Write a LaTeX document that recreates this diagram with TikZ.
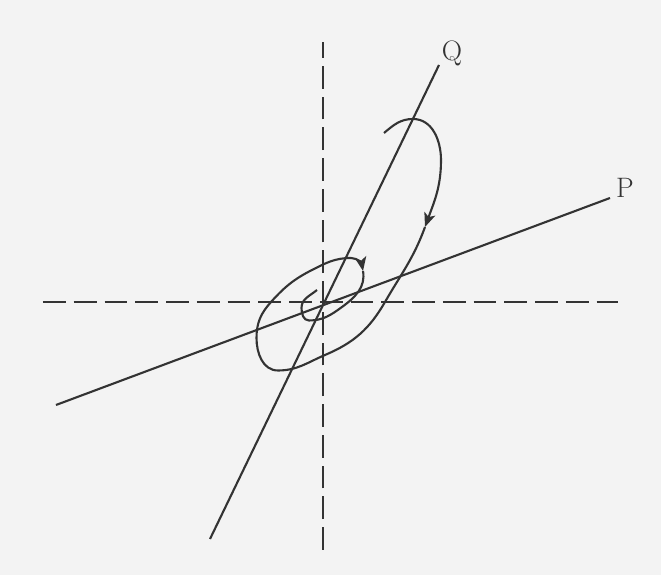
\documentclass[tikz,border=0pt]{standalone}
\usepackage{tikz}
\usetikzlibrary{arrows.meta}
\definecolor{paper}{HTML}{F3F3F3}
\definecolor{ink}{HTML}{333333}
\tikzset{
  axis/.style={draw=ink,line width=1.5pt,dash pattern=on 13pt off 4.5pt},
  ray/.style={draw=ink,line width=1.2pt},
  orbit/.style={draw=ink,line width=1.2pt},
  flow/.style={orbit,-{Stealth[length=8pt,width=6.5pt,inset=2pt]}},
  lbl/.style={font=\fontsize{16}{19}\selectfont,text=ink,inner sep=0pt}
}

\begin{document}
\begin{tikzpicture}[x=1cm,y=1cm]
  \fill[paper] (-6.46,-5.46) rectangle (6.76,6.04);
  \useasboundingbox (-6.46,-5.46) rectangle (6.76,6.04);
  % dashed axes
  \coordinate (O) at (0,0);
  \coordinate (xl) at (-5.6,0); \coordinate (xr) at (5.9,0);
  \coordinate (yb) at (0,-4.96); \coordinate (yt) at (0,5.2);
  \draw[axis] (xl)--(xr); \draw[axis] (yb)--(yt);
  % the two lines
  \coordinate (p0) at (-5.34,-2.06); \coordinate (p1) at (5.74,2.08);
  \coordinate (q0) at (-2.26,-4.74); \coordinate (q1) at (2.32,4.74);
  \draw[ray] (p0)--(p1); \draw[ray] (q0)--(q1);
  \node[lbl] (P) at (6.04,2.28) {P};
  \node[lbl] (Q) at (2.58,4.98) {Q};
  % spiral, in three pieces
  \coordinate (s0) at (1.22,3.38); \coordinate (a1) at (2.04,1.50);
  \coordinate (a2) at (0.80,0.62); \coordinate (s1) at (-0.12,0.24);
  \draw[flow] (s0) to[out=40,in=180] (1.80,3.66) to[out=0,in=90] (2.36,2.84)
    to[out=-90,in=70] (a1);
  \draw[flow] (a1) to[out=-110,in=60] (1.24,0) to[out=-120,in=23] (0.04,-1.06)
    to[out=-157,in=0] (-0.90,-1.37) to[out=180,in=-90] (-1.33,-0.72)
    to[out=90,in=-132] (-1.04,0) to[out=48,in=207] (-0.22,0.64)
    to[out=27,in=180] (0.56,0.88) to[out=0,in=100] (a2);
  \draw[orbit] (a2) to[out=-80,in=36] (0.38,-0.10) to[out=-144,in=0] (-0.28,-0.37)
    to[out=180,in=-90] (-0.43,-0.12) to[out=90,in=-140] (s1);
\end{tikzpicture}
\end{document}
